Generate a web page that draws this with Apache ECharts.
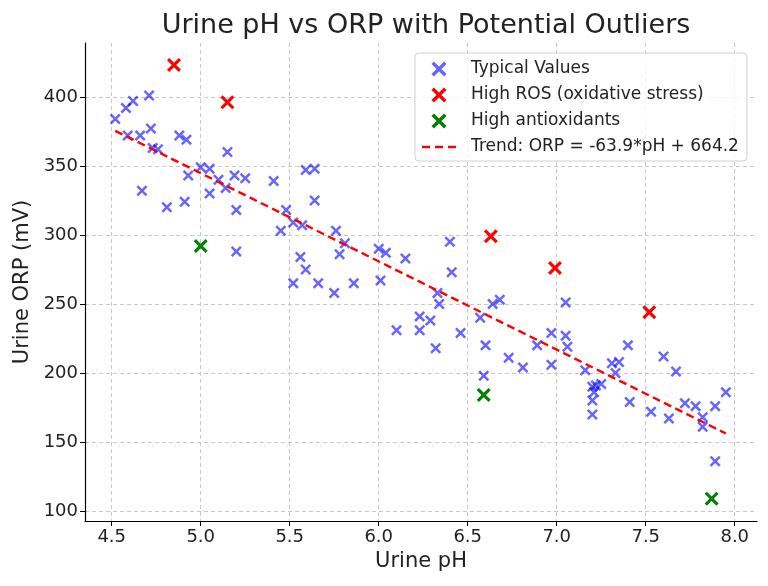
<!DOCTYPE html>
<html><head><meta charset="utf-8">
<script src="https://cdn.jsdelivr.net/npm/echarts@6/dist/echarts.min.js"></script>
<style>html,body{margin:0;padding:0;background:#fff}#c{width:768px;height:586px}</style>
</head><body><div id="c"></div>
<script>
// ---- data ----
const typicalPH  = [4.52,4.58,4.62,4.71,4.59,4.66,4.72,4.73,4.76,4.88,4.92,4.67,4.81,4.91,4.93,5.00,5.05,5.05,5.10,5.14,
  5.15,5.19,5.25,5.20,5.20,5.41,5.48,5.45,5.52,5.57,5.59,5.64,5.64,5.76,5.81,5.78,5.56,5.59,5.52,5.66,
  5.75,5.86,6.00,6.04,6.15,6.01,6.40,6.41,6.33,6.34,6.23,6.29,6.23,6.10,6.32,6.46,6.64,6.68,6.57,6.60,
  6.59,6.73,6.81,6.89,6.97,6.97,7.05,7.05,7.06,7.16,7.20,7.21,7.22,7.25,7.20,7.20,7.31,7.35,7.33,7.40,
  7.41,7.53,7.60,7.67,7.63,7.72,7.78,7.82,7.82,7.89,7.95,7.89];
const typicalORP = [384,392,397,401,372,372,377,363,362,372,369,332,320,324,343,349,348,330,340,334,
  360,343,341,318,288,339,318,303,309,307,347,348,325,303,294,286,284,275,265,265,
  258,265,290,287,283,267,295,273,258,250,241,238,231,231,218,229,250,253,240,220,
  198,211,204,220,229,206,251,227,219,202,190,186,191,192,180,170,207,208,200,220,
  179,172,212,201,167,178,176,168,161,176,186,136];
const rosPH   = [4.85,5.15,6.63,6.99,7.52];
const rosORP  = [423,396,299,276,244];
const antiPH  = [5.00,6.59,7.87];
const antiORP = [292,184,109];
const trendPH  = [4.52,7.95];
const trendORP = [375.4,156.2];
const xTickLabels = [4.5,5.0,5.5,6.0,6.5,7.0,7.5,8.0];
const yTickLabels = [100,150,200,250,300,350,400];
const seriesNames = ['Typical Values','High ROS (oxidative stress)','High antioxidants','Trend: ORP = -63.9*pH + 664.2'];

// ---- layout ----
const plotL = 85, plotR = 757, plotT = 43, plotB = 521;
const xMin = 4.35, xMax = 8.125, yMin = 92.8, yMax = 439;
const pw = plotR - plotL, ph = plotB - plotT;
const xt0 = xTickLabels[0], xt1 = xTickLabels[xTickLabels.length-1];
const yt0 = yTickLabels[0], yt1 = yTickLabels[yTickLabels.length-1];
const gx2Left = plotL + (xt0 - xMin) / (xMax - xMin) * pw;
const gx2Width = (xt1 - xt0) / (xMax - xMin) * pw;
const gy3Top = plotB - (yt1 - yMin) / (yMax - yMin) * ph;
const gy3Height = (yt1 - yt0) / (yMax - yMin) * ph;

const FONT = 'DejaVu Sans';
const TXT = '#222';
const XPATH = 'path://M0,1.6 L1.6,0 L10,8.4 L8.4,10 Z M8.4,0 L10,1.6 L1.6,10 L0,8.4 Z';
const DASH_ICON = 'path://M0,0 H8 V2.6 H0 Z M13,0 H21 V2.6 H13 Z M26,0 H34 V2.6 H26 Z';
const zip = (a, b) => a.map((v, i) => [v, b[i]]);

const chart = echarts.init(document.getElementById('c'), null, {renderer: 'canvas'});
chart.setOption({
  animation: false,
  backgroundColor: '#fff',
  title: {
    text: 'Urine pH vs ORP with Potential Outliers',
    left: (plotL + plotR) / 2, top: 7, textAlign: 'center',
    textStyle: {fontFamily: FONT, fontSize: 27, fontWeight: 'normal', color: TXT}
  },
  legend: {
    orient: 'vertical', left: 415, top: 53,
    padding: [7, 8, 5, 7], itemGap: 8, itemWidth: 34, itemHeight: 15,
    backgroundColor: 'rgba(255,255,255,0.8)', borderColor: '#d0d0d0', borderWidth: 1, borderRadius: 4,
    textStyle: {fontFamily: FONT, fontSize: 17, color: TXT, lineHeight: 18, padding: [0, 0, 0, 10]},
    data: [
      {name: seriesNames[0]},
      {name: seriesNames[1]},
      {name: seriesNames[2]},
      {name: seriesNames[3], icon: DASH_ICON}
    ]
  },
  grid: [
    {left: plotL, top: plotT, width: pw, height: ph},
    {left: gx2Left, top: plotT, width: gx2Width, height: ph},
    {left: plotL, top: gy3Top, width: pw, height: gy3Height}
  ],
  xAxis: [
    {gridIndex: 0, type: 'value', min: xMin, max: xMax,
     axisLine: {show: true, lineStyle: {color: '#000', width: 1.2}},
     axisTick: {show: false}, axisLabel: {show: false}, splitLine: {show: false},
     name: 'Urine pH', nameLocation: 'middle', nameGap: 30,
     nameTextStyle: {fontFamily: FONT, fontSize: 21, color: TXT}},
    {gridIndex: 1, type: 'value', min: xt0, max: xt1, interval: 0.5,
     axisLine: {show: false},
     axisTick: {show: true, length: 5, lineStyle: {color: '#000', width: 1}},
     axisLabel: {show: true, margin: 7, fontFamily: FONT, fontSize: 18, color: TXT,
       formatter: v => v.toFixed(1)},
     splitLine: {show: true, lineStyle: {color: '#c8c8c8', type: [4, 3], width: 1}}},
    {gridIndex: 2, type: 'value', min: xMin, max: xMax, show: false}
  ],
  yAxis: [
    {gridIndex: 0, type: 'value', min: yMin, max: yMax,
     axisLine: {show: true, lineStyle: {color: '#000', width: 1.2}},
     axisTick: {show: false}, axisLabel: {show: false}, splitLine: {show: false},
     name: 'Urine ORP (mV)', nameLocation: 'middle', nameGap: 52,
     nameTextStyle: {fontFamily: FONT, fontSize: 21, color: TXT}},
    {gridIndex: 1, type: 'value', min: yMin, max: yMax, show: false},
    {gridIndex: 2, type: 'value', min: yt0, max: yt1, interval: 50,
     axisLine: {show: false},
     axisTick: {show: true, length: 5, lineStyle: {color: '#000', width: 1}},
     axisLabel: {show: true, margin: 7, fontFamily: FONT, fontSize: 18, color: TXT},
     splitLine: {show: true, lineStyle: {color: '#c8c8c8', type: [4, 3], width: 1}}}
  ],
  series: [
    {name: seriesNames[0], type: 'scatter', xAxisIndex: 0, yAxisIndex: 0,
     data: zip(typicalPH, typicalORP), symbol: XPATH, symbolSize: 11, symbolKeepAspect: true,
     itemStyle: {color: 'rgba(0,0,255,0.6)', opacity: 1}, z: 3},
    {name: seriesNames[1], type: 'scatter', xAxisIndex: 0, yAxisIndex: 0,
     data: zip(rosPH, rosORP), symbol: XPATH, symbolSize: 14, symbolKeepAspect: true,
     itemStyle: {color: '#ff0000', opacity: 1}, z: 4},
    {name: seriesNames[2], type: 'scatter', xAxisIndex: 0, yAxisIndex: 0,
     data: zip(antiPH, antiORP), symbol: XPATH, symbolSize: 14, symbolKeepAspect: true,
     itemStyle: {color: '#008000', opacity: 1}, z: 4},
    {name: seriesNames[3], type: 'line', xAxisIndex: 0, yAxisIndex: 0,
     data: zip(trendPH, trendORP), symbol: 'none', showSymbol: false,
     lineStyle: {color: '#ff0000', width: 2.4, type: [8, 4.5]},
     itemStyle: {color: '#ff0000'}, z: 5}
  ]
});
</script></body></html>
